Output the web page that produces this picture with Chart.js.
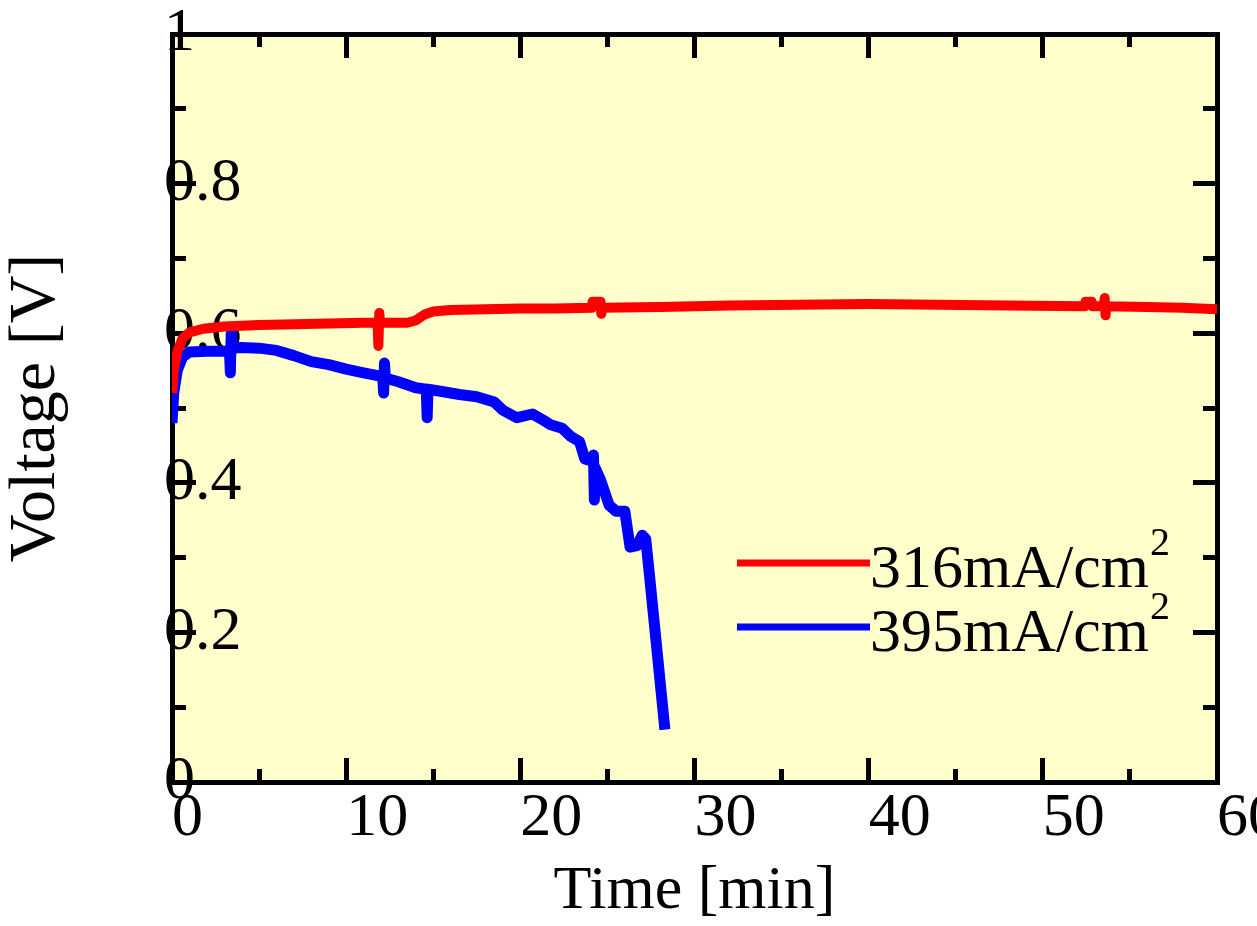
<!DOCTYPE html>
<html>
<head>
<meta charset="utf-8">
<script src="https://cdn.jsdelivr.net/npm/chart.js@4/dist/chart.umd.min.js"></script>
<style>
    html, body { margin: 0; padding: 0; background: #fff; }
</style>
</head>
<body>
<canvas id="chart" width="1257" height="926"></canvas>
<script>
"use strict";

// time [min] / voltage [V]
const time316 = [0, 0.1, 0.3, 0.6, 1.0, 1.8, 3, 5, 7, 9, 11, 11.8, 11.85, 11.9, 11.95, 12.0, 13.5, 14.0, 14.5, 15.0,
    16, 18, 20, 22, 24.1, 24.15, 24.6, 24.65, 24.7, 28, 32, 36, 40, 44, 48, 52.4, 52.45, 52.8, 52.85, 53.5,
    53.55, 53.6, 53.65, 56, 58, 60];
const volt316 = [0.52, 0.55, 0.575, 0.593, 0.601, 0.606, 0.609, 0.611, 0.612, 0.613, 0.614, 0.614, 0.583, 0.627, 0.614, 0.614, 0.614, 0.617, 0.625, 0.629,
    0.631, 0.632, 0.633, 0.633, 0.634, 0.642, 0.642, 0.626, 0.634, 0.635, 0.637, 0.638, 0.639, 0.638, 0.637, 0.636, 0.642, 0.642, 0.636, 0.636,
    0.647, 0.624, 0.636, 0.635, 0.634, 0.632];

const time395 = [0, 0.1, 0.3, 0.6, 1.0, 2.0, 3.3, 3.35, 3.4, 3.45, 4.0, 5, 6, 7, 8, 9, 10, 11, 12.1, 12.15,
    12.2, 12.25, 13, 14, 14.6, 14.65, 14.7, 15.5, 16.5, 17.5, 18.5, 19.0, 19.8, 20.7, 21.3, 21.7, 22.4, 22.9, 23.4, 23.7,
    24.0, 24.2, 24.25, 24.3, 24.6, 25.1, 25.5, 26.0, 26.3, 26.7, 27.0, 27.2, 27.4, 27.7, 28.0, 28.3];
const volt395 = [0.48, 0.52, 0.55, 0.568, 0.575, 0.576, 0.576, 0.547, 0.600, 0.580, 0.581, 0.580, 0.577, 0.570, 0.562, 0.558, 0.552, 0.547, 0.542, 0.520,
    0.560, 0.540, 0.535, 0.527, 0.525, 0.487, 0.525, 0.522, 0.518, 0.515, 0.508, 0.497, 0.487, 0.492, 0.484, 0.478, 0.473, 0.462, 0.455, 0.432,
    0.430, 0.437, 0.377, 0.420, 0.404, 0.370, 0.362, 0.362, 0.314, 0.316, 0.330, 0.325, 0.280, 0.210, 0.140, 0.070];

const seriesLabels = ['316mA/cm²', '395mA/cm²'];
const seriesColors = ['#ff0000', '#0000ff'];

const xRange = [0, 60];
const yRange = [0, 1];
const xSteps = [10, 5];     // major, minor
const ySteps = [0.2, 0.1];

const FONT = "'Liberation Serif', 'Times New Roman', serif";
Chart.defaults.font.family = FONT;
Chart.defaults.color = '#000';

const toPoints = (xs, ys) => xs.map((x, i) => ({ x: x, y: ys[i] }));

/**
 * force a scale's box size, so the plot area sits where the layout padding says
 */
const fitTo = (size) => (scale) => {
    if (scale.isHorizontal()) {
        scale.height = size;
    } else {
        scale.width = size;
    }
    scale.paddingLeft = scale.paddingRight = scale.paddingTop = scale.paddingBottom = 0;
};

const frameBorder = { display: true, width: 5, color: '#000' };

const tickGrid = (len) => ({
    drawOnChartArea: false,
    drawTicks: true,
    tickLength: -len,
    tickWidth: 5,
    tickColor: '#000'
});

// unlabelled axis, only there for its inward tick marks
const tickAxis = (position, range, step, len) => ({
    type: 'linear',
    position: position,
    min: range[0],
    max: range[1],
    weight: 0,
    afterFit: fitTo(0),
    ticks: { display: false, stepSize: step, autoSkip: false },
    grid: tickGrid(len),
    border: frameBorder
});

const plotBackground = {
    id: 'plotBackground',
    beforeDraw: (chart) => {
        const { ctx, chartArea: a } = chart;
        ctx.save();
        ctx.fillStyle = '#ffffcc';
        ctx.fillRect(a.left, a.top, a.right - a.left, a.bottom - a.top);
        ctx.restore();
    }
};

const insetLegend = {
    id: 'insetLegend',
    afterDatasetsDraw: (chart) => {
        const ctx = chart.ctx;

        chart.data.datasets.forEach((ds, i) => {
            const y = 563 + i * 64;
            const text = ds.label.replace('²', '');

            ctx.save();
            ctx.strokeStyle = ds.borderColor;
            ctx.lineWidth = 7;
            ctx.beginPath();
            ctx.moveTo(737, y);
            ctx.lineTo(870, y);
            ctx.stroke();

            ctx.fillStyle = '#000';
            ctx.textAlign = 'left';
            ctx.textBaseline = 'alphabetic';
            ctx.font = '62px ' + FONT;
            ctx.fillText(text, 870, y + 24);

            const w = ctx.measureText(text).width;
            ctx.font = '40px ' + FONT;
            ctx.fillText('2', 870 + w + 1, y - 8);
            ctx.restore();
        });
    }
};

const lineStyle = {
    pointRadius: 0,
    tension: 0,
    fill: false,
    borderJoinStyle: 'round',
    borderCapStyle: 'butt'
};

new Chart(document.getElementById('chart'), {
    type: 'line',
    data: {
        datasets: [Object.assign({
            label: seriesLabels[0],
            data: toPoints(time316, volt316),
            borderColor: seriesColors[0],
            backgroundColor: seriesColors[0],
            borderWidth: 10
        }, lineStyle), Object.assign({
            label: seriesLabels[1],
            data: toPoints(time395, volt395),
            borderColor: seriesColors[1],
            backgroundColor: seriesColors[1],
            borderWidth: 11
        }, lineStyle)]
    },
    options: {
        responsive: false,
        animation: false,
        devicePixelRatio: 1,
        layout: {
            padding: { top: 34, right: 40, bottom: 0, left: 0 }
        },
        plugins: {
            legend: { display: false },
            tooltip: { enabled: false }
        },
        scales: {
            x: {
                type: 'linear',
                position: 'bottom',
                min: xRange[0],
                max: xRange[1],
                weight: 1,
                afterFit: fitTo(144),
                ticks: {
                    stepSize: xSteps[0],
                    align: 'start',
                    padding: 30,
                    autoSkip: false,
                    minRotation: 0,
                    maxRotation: 0,
                    font: { size: 62, lineHeight: 1 }
                },
                grid: tickGrid(24),
                border: frameBorder,
                title: {
                    display: true,
                    text: 'Time [min]',
                    font: { size: 62, lineHeight: 1 },
                    padding: { top: 0, bottom: 3 }
                }
            },
            xMinor: tickAxis('bottom', xRange, xSteps[1], 13),
            xTop: tickAxis('top', xRange, xSteps[0], 24),
            xTopMinor: tickAxis('top', xRange, xSteps[1], 13),
            y: {
                type: 'linear',
                position: 'left',
                min: yRange[0],
                max: yRange[1],
                weight: 1,
                afterFit: fitTo(172),
                ticks: {
                    stepSize: ySteps[0],
                    mirror: true,
                    padding: -8,
                    autoSkip: false,
                    font: { size: 62, lineHeight: 1 },
                    callback: (value) => String(Math.round(value * 10) / 10)
                },
                grid: tickGrid(24),
                border: frameBorder,
                title: {
                    display: true,
                    text: 'Voltage [V]',
                    font: { size: 66, lineHeight: 1 },
                    padding: { top: 4, bottom: 0 }
                }
            },
            yMinor: tickAxis('left', yRange, ySteps[1], 14),
            yRight: tickAxis('right', yRange, ySteps[0], 24),
            yRightMinor: tickAxis('right', yRange, ySteps[1], 14)
        }
    },
    plugins: [plotBackground, insetLegend]
});
</script>
</body>
</html>
